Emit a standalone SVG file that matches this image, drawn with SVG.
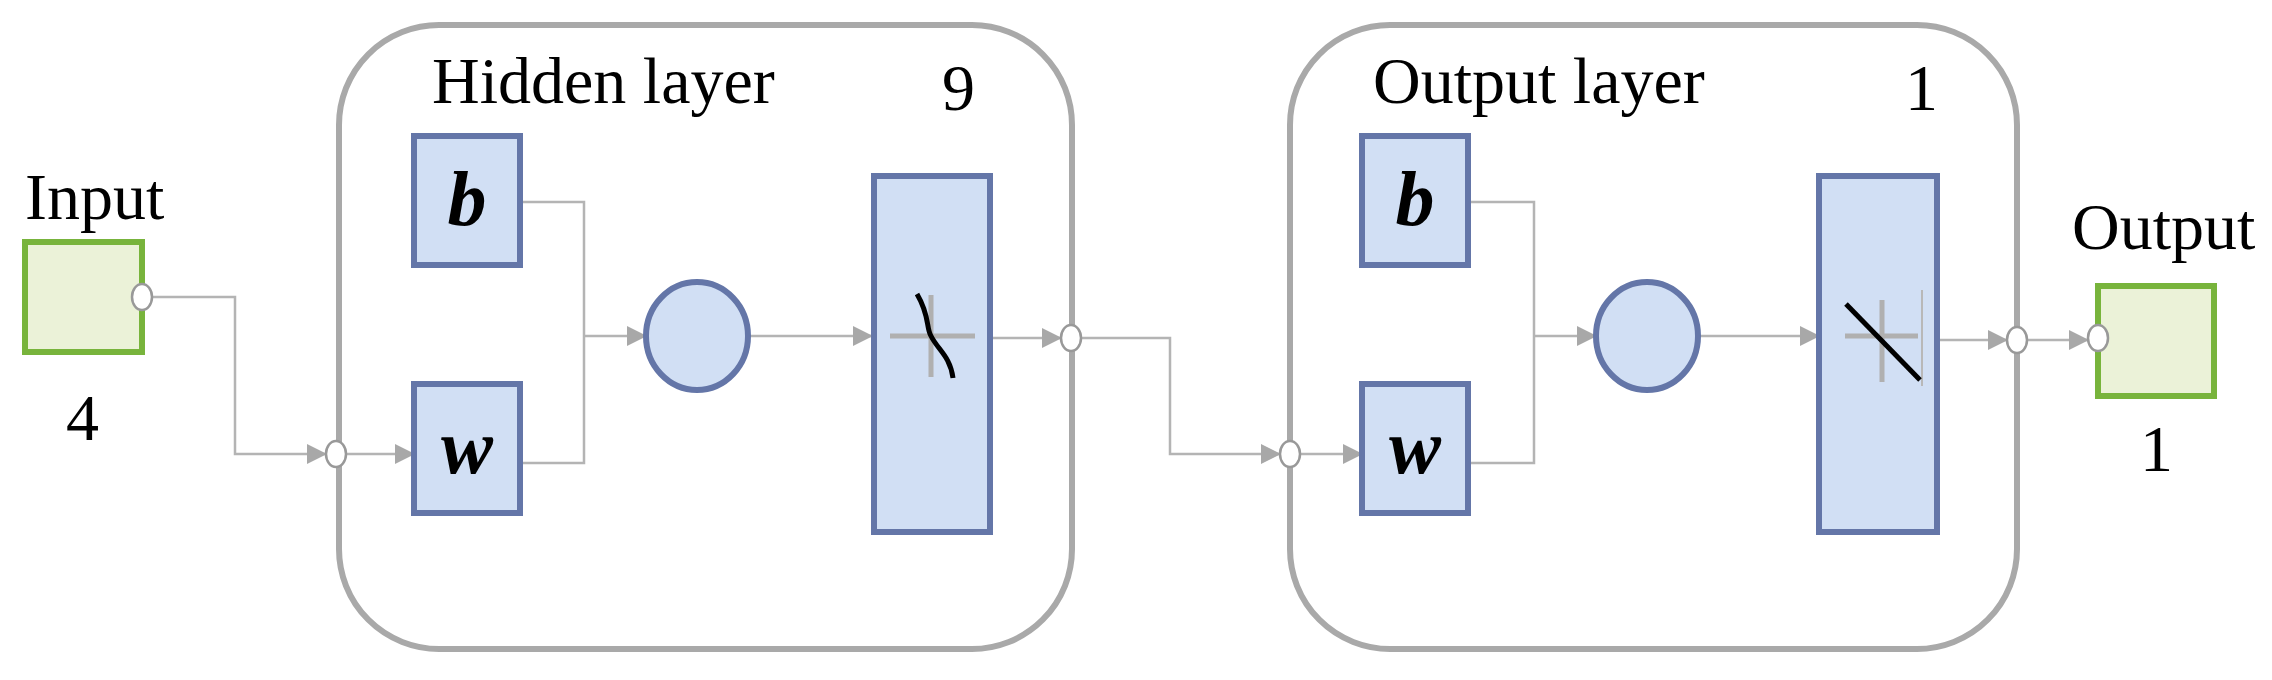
<svg xmlns="http://www.w3.org/2000/svg" width="2272" height="680" viewBox="0 0 2272 680">
<style>
.layer{fill:#fff;stroke:#a9a9a9;stroke-width:6}
.blk{fill:#d1dff4;stroke:#6476a8;stroke-width:6}
.io{fill:#ebf2d8;stroke:#78b43c;stroke-width:6}
.c{fill:none;stroke:#b4b4b4;stroke-width:2.5}
.port{fill:#fff;stroke:#999;stroke-width:2.5}
.t{font-family:"Liberation Serif",serif;font-size:66px;fill:#000}
.bw{font-family:"Liberation Serif",serif;font-size:78px;font-weight:bold;font-style:italic;text-anchor:middle}
.ax{stroke:#b0b0b0;stroke-width:5;fill:none}
</style>
<defs>
<marker id="a" markerWidth="20" markerHeight="20" refX="19" refY="10" orient="auto" markerUnits="userSpaceOnUse" viewBox="0 0 20 20"><path d="M0,0L20,10L0,20z" fill="#a8a8a8"/></marker>
</defs>
<rect width="2272" height="680" fill="#fff"/>
<g id="hidden-layer">
<rect class="layer" x="339" y="25" width="733" height="624" rx="100"/>
<text class="t" x="432" y="103">Hidden layer</text>
<text class="t" x="942" y="110">9</text>
</g>
<g id="output-layer">
<rect class="layer" x="1290" y="25" width="727" height="624" rx="100"/>
<text class="t" x="1373" y="103">Output layer</text>
<text class="t" x="1905" y="110">1</text>
</g>
<g id="connectors">
<path class="c" d="M142,297H235V454H326" marker-end="url(#a)"/>
<path class="c" d="M346,454H414" marker-end="url(#a)"/>
<path class="c" d="M520,202H584V463H520"/>
<path class="c" d="M584,336H646" marker-end="url(#a)"/>
<path class="c" d="M748,336H872" marker-end="url(#a)"/>
<path class="c" d="M990,338H1061" marker-end="url(#a)"/>
<path class="c" d="M1081,338H1170V454H1280" marker-end="url(#a)"/>
<path class="c" d="M1300,454H1362" marker-end="url(#a)"/>
<path class="c" d="M1468,202H1534V463H1468"/>
<path class="c" d="M1534,336H1596" marker-end="url(#a)"/>
<path class="c" d="M1698,336H1819" marker-end="url(#a)"/>
<path class="c" d="M1937,340H2007" marker-end="url(#a)"/>
<path class="c" d="M2027,340H2088" marker-end="url(#a)"/>
</g>
<g id="input">
<rect class="io" x="25" y="242" width="117" height="110"/>
<text class="t" x="25" y="219">Input</text>
<text class="t" x="66" y="440">4</text>
<ellipse class="port" cx="142" cy="297" rx="10" ry="13"/>
</g>
<g id="hidden-b"><rect class="blk" x="414" y="136" width="106" height="129"/><text class="bw" x="467" y="225">b</text></g>
<g id="hidden-w"><rect class="blk" x="414" y="384" width="106" height="129"/><text class="bw" x="467" y="473">w</text></g>
<g id="hidden-sum"><ellipse class="blk" cx="697" cy="336" rx="51" ry="54"/></g>
<g id="hidden-tf">
<rect class="blk" x="874" y="176" width="116" height="356"/>
<path class="ax" d="M890,336H975M931,295V377"/>
<path d="M917,294C930,316 926,328 931,336C938,350 950,356 953,378" fill="none" stroke="#000" stroke-width="5"/>
</g>
<g id="hidden-in"><ellipse class="port" cx="336" cy="454" rx="10" ry="13"/></g>
<g id="hidden-out"><ellipse class="port" cx="1071" cy="338" rx="10" ry="13"/></g>
<g id="out-b"><rect class="blk" x="1362" y="136" width="106" height="129"/><text class="bw" x="1415" y="225">b</text></g>
<g id="out-w"><rect class="blk" x="1362" y="384" width="106" height="129"/><text class="bw" x="1415" y="473">w</text></g>
<g id="out-sum"><ellipse class="blk" cx="1647" cy="336" rx="51" ry="54"/></g>
<g id="out-tf">
<rect class="blk" x="1819" y="176" width="118" height="356"/>
<path class="ax" d="M1845,336H1918M1882,300V382"/>
<path d="M1922,290V386" stroke="#b8b8b8" stroke-width="2"/>
<path d="M1846,304L1920,380" stroke="#000" stroke-width="5"/>
</g>
<g id="out-in"><ellipse class="port" cx="1290" cy="454" rx="10" ry="13"/></g>
<g id="out-out"><ellipse class="port" cx="2017" cy="340" rx="10" ry="13"/></g>
<g id="output">
<rect class="io" x="2098" y="286" width="116" height="110"/>
<text class="t" x="2072" y="249">Output</text>
<text class="t" x="2140" y="471">1</text>
<ellipse class="port" cx="2098" cy="338" rx="10" ry="13"/>
</g>
</svg>
